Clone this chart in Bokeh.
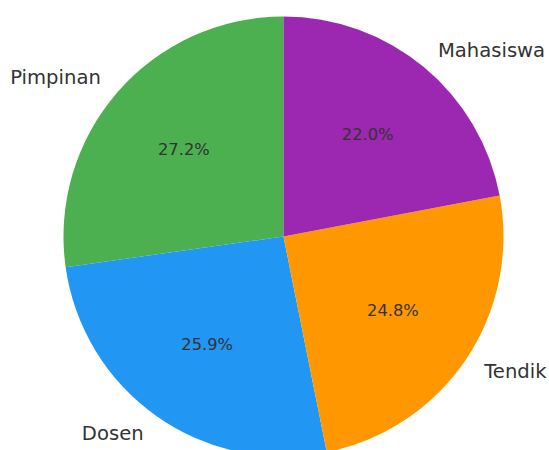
import math
from bokeh.plotting import figure
from bokeh.models import ColumnDataSource, Range1d
from bokeh.core.properties import value
from bokeh.embed import file_html
from bokeh.resources import INLINE

labels = ["Pimpinan", "Dosen", "Tendik", "Mahasiswa"]
shares = [27.2, 25.9, 24.8, 22.0]
colors = ["#4CAF50", "#2196F3", "#FF9800", "#9C27B0"]

W, H = 549, 450
CX, CY, R = 283.0, 236.0, 220.0  # pixel centre and radius

total = sum(shares)
starts, ends, mids = [], [], []
a = math.pi / 2
for s in shares:
    span = 2 * math.pi * s / total
    starts.append(a)
    ends.append(a + span)
    mids.append(a + span / 2)
    a += span

p = figure(width=W, height=H, output_backend="svg", toolbar_location=None,
           x_range=Range1d(-CX / R, (W - CX) / R),
           y_range=Range1d(-(H - CY) / R, CY / R),
           min_border=0)
p.axis.visible = False
p.grid.visible = False
p.outline_line_color = None
p.background_fill_color = "white"

src = ColumnDataSource(dict(start=starts, end=ends, color=colors))
p.wedge(x=0, y=0, radius=1, start_angle="start", end_angle="end",
        fill_color="color", line_color=None, source=src)

lx = [1.1 * math.cos(m) for m in mids]
ly = [1.1 * math.sin(m) for m in mids]
align = ["left" if x > 0 else "right" for x in lx]
p.text(x=lx, y=ly, text=labels, text_align=align, text_baseline="middle",
       text_font=value("DejaVu Sans"), text_font_size="19.6px", text_color="#333333")

px = [0.6 * math.cos(m) for m in mids]
py = [0.6 * math.sin(m) for m in mids]
pct = ["%.1f%%" % s for s in shares]
p.text(x=px, y=py, text=pct, text_align="center", text_baseline="middle",
       text_font=value("DejaVu Sans"), text_font_size="16.3px", text_color="#333333")

open("out.html", "w").write(file_html(p, INLINE))
